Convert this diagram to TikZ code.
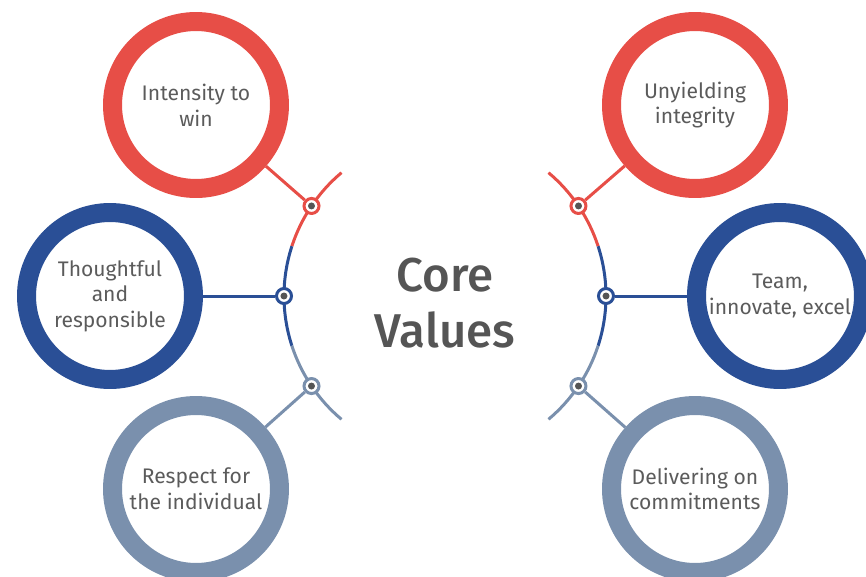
\documentclass[tikz,border=0pt]{standalone}
\usepackage{fontspec}
\setmainfont{Fira Sans}
\newfontfamily\titlefont{Fira Sans Medium}

\definecolor{cvred}{HTML}{E74E47}
\definecolor{cvblue}{HTML}{2A4F96}
\definecolor{cvgray}{HTML}{7A90AD}
\definecolor{cvtext}{HTML}{5B5B5B}
\definecolor{knotgray}{HTML}{555555}

\begin{document}
\begin{tikzpicture}[scale=0.02,
    ring/.style={circle,draw=#1,line width=0.38cm,minimum size=3.34cm,inner sep=0pt,
      align=center,text=cvtext,font=\fontsize{12}{14.6}\selectfont},
    knot/.style={circle,draw=#1,fill=white,line width=0.06cm,minimum size=0.3cm,inner sep=0pt},
    link/.style={draw=#1,line width=0.06cm}]
  \useasboundingbox (-445,-281) rectangle (421,296) ;
  % the two arcs round the title, radius 161
  \draw[link=cvred] (130:161) arc (130:162:161) ;
  \draw[link=cvblue] (162:161) arc (162:198:161) ;
  \draw[link=cvgray] (198:161) arc (198:230:161) ;
  \draw[link=cvred] (50:161) arc (50:18:161) ;
  \draw[link=cvblue] (18:161) arc (18:-18:161) ;
  \draw[link=cvgray] (-18:161) arc (-18:-50:161) ;
  \node[text=knotgray,align=center,font=\titlefont\fontsize{27}{31.5}\selectfont] %
    (title) at (0,-7) {Core\\Values} ;
  % value circles
  \node[ring=cvred] (c1) at (-249,191) {Intensity to\\win} ;
  \node[ring=cvblue] (c2) at (-335,0) {Thoughtful\\and\\responsible} ;
  \node[ring=cvgray] (c3) at (-249,-193) {Respect for\\the individual} ;
  \node[ring=cvred] (c4) at (250,191) {Unyielding\\integrity} ;
  \node[ring=cvblue] (c5) at (335,0) {Team,\\innovate, excel} ;
  \node[ring=cvgray] (c6) at (250,-193) {Delivering on\\commitments} ;
  % knots on the arcs
  \node[knot=cvred] (k1) at (146:161) {} ;
  \node[knot=cvblue] (k2) at (180:161) {} ;
  \node[knot=cvgray] (k3) at (214:161) {} ;
  \node[knot=cvred] (k4) at (34:161) {} ;
  \node[knot=cvblue] (k5) at (0:161) {} ;
  \node[knot=cvgray] (k6) at (-34:161) {} ;
  \foreach \k in {k1,k2,k3,k4,k5,k6} \fill[knotgray] (\k) circle (3.5) ;
  \draw[link=cvred] (k1) -- (c1) ;
  \draw[link=cvblue] (k2) -- (c2) ;
  \draw[link=cvgray] (k3) -- (c3) ;
  \draw[link=cvred] (k4) -- (c4) ;
  \draw[link=cvblue] (k5) -- (c5) ;
  \draw[link=cvgray] (k6) -- (c6) ;
\end{tikzpicture}
\end{document}
